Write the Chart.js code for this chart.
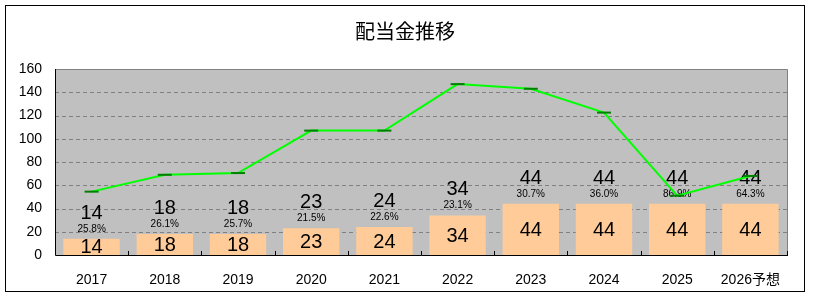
<!DOCTYPE html>
<html><head><meta charset="utf-8">
<script src="https://cdn.jsdelivr.net/npm/chart.js@4"></script>
<style>html,body{margin:0;padding:0;background:#fff}#wrap{width:813px;height:299px}</style>
</head><body><div id="wrap"><canvas id="c" width="813" height="299"></canvas></div>
<script>
const title = "配当金推移";
const categories = ["2017","2018","2019","2020","2021","2022","2023","2024","2025","2026予想"];
const dividends = [14,18,18,23,24,34,44,44,44,44];
const eps = [54.5,69,70.5,107,107,147,143,122.5,51,68];
const payoutLabels = ["25.8%","26.1%","25.7%","21.5%","22.6%","23.1%","30.7%","36.0%","86.9%","64.3%"];
const yTicks = [0,20,40,60,80,100,120,140,160];

const NUM_FONT = "'Liberation Sans', Arial, sans-serif";

const deco = {
  id: 'deco',
  beforeDraw(chart) {
    const {ctx, chartArea: a} = chart;
    ctx.save();
    ctx.fillStyle = '#fff';
    ctx.fillRect(0,0,chart.width,chart.height);
    ctx.strokeStyle = '#000'; ctx.lineWidth = 1;
    ctx.strokeRect(5.5,5.5,799,286);
    ctx.fillStyle = '#c0c0c0';
    ctx.fillRect(a.left,a.top,a.right-a.left,a.bottom-a.top);
    const y = chart.scales.y;
    ctx.strokeStyle = '#808080'; ctx.setLineDash([4,3]);
    yTicks.forEach(v => { if (v===0||v===160) return; const py=Math.round(y.getPixelForValue(v))+0.5; ctx.beginPath(); ctx.moveTo(a.left,py); ctx.lineTo(a.right,py); ctx.stroke(); });
    ctx.setLineDash([]);
    ctx.fillStyle = '#000'; ctx.font = "20px 'Noto Sans CJK JP'"; ctx.textAlign='center'; ctx.textBaseline='middle';
    ctx.fillText(title, 405, 31);
    ctx.restore();
  },
  afterDatasetDraw(chart, args) {
    if (args.index !== 0) return;
    const {ctx} = chart; const x = chart.scales.x, y = chart.scales.y;
    ctx.save(); ctx.fillStyle='#000'; ctx.textAlign='center';
    dividends.forEach((v,i) => {
      const px = x.getPixelForValue(i);
      const top = y.getPixelForValue(v), bot = y.getPixelForValue(0);
      ctx.font = "20px " + NUM_FONT; ctx.textBaseline='middle';
      ctx.fillText(String(v), px, (top+bot)/2 + 1);
      ctx.textBaseline='alphabetic';
      ctx.font = "10px " + NUM_FONT;
      ctx.fillText(payoutLabels[i], px, top - 7);
      ctx.font = "20px " + NUM_FONT;
      ctx.fillText(String(v), px, top - 20);
    });
    ctx.restore();
  },
  afterDraw(chart) {
    const {ctx, chartArea: a} = chart;
    ctx.save(); ctx.lineWidth = 1;
    ctx.strokeStyle = '#808080';
    ctx.beginPath(); ctx.moveTo(a.left, a.top+0.5); ctx.lineTo(a.right+0.5, a.top+0.5); ctx.lineTo(a.right+0.5, a.bottom); ctx.stroke();
    ctx.strokeStyle = '#000';
    ctx.beginPath(); ctx.moveTo(a.left+0.5, a.top); ctx.lineTo(a.left+0.5, a.bottom+0.5); ctx.lineTo(a.right+1, a.bottom+0.5); ctx.stroke();
    for (let i=1;i<=categories.length;i++) {
      const px = Math.round(a.left + (a.right-a.left)*i/categories.length)+0.5;
      ctx.beginPath(); ctx.moveTo(px, a.bottom); ctx.lineTo(px, a.bottom-4); ctx.stroke();
    }
    ctx.restore();
  }
};

new Chart(document.getElementById('c'), {
  data: {
    labels: categories,
    datasets: [
      { type:'bar', data: dividends, backgroundColor:'#ffcc99', barPercentage:0.77, categoryPercentage:1, order:2 },
      { type:'line', data: eps, borderColor:'#00ff00', borderWidth:2, tension:0,
        pointStyle:'line', pointRadius:7, pointBorderColor:'#008000', pointBorderWidth:2, pointBackgroundColor:'#008000', order:1 }
    ]
  },
  options: {
    responsive:false, animation:false, devicePixelRatio:1,
    layout:{ padding:{ top:69, right:26, left:0, bottom:0 } },
    plugins:{ legend:{display:false}, tooltip:{enabled:false}, title:{display:false} },
    scales:{
      x:{ offset:true, grid:{display:false, drawTicks:false}, border:{display:false},
          ticks:{ padding:17, color:'#000', font:{ family:"'Liberation Sans', 'Noto Sans CJK JP', sans-serif", size:14 }, maxRotation:0, autoSkip:false },
          afterFit(s){ s.height = 44; } },
      y:{ min:0, max:160, grid:{display:false, drawTicks:false}, border:{display:false},
          afterBuildTicks(s){ s.ticks = yTicks.map(v=>({value:v})); },
          ticks:{ padding:13, color:'#000', font:{ family:NUM_FONT, size:14 } },
          afterFit(s){ s.width = 55; } }
    }
  },
  plugins:[deco]
});
</script>
</body></html>
